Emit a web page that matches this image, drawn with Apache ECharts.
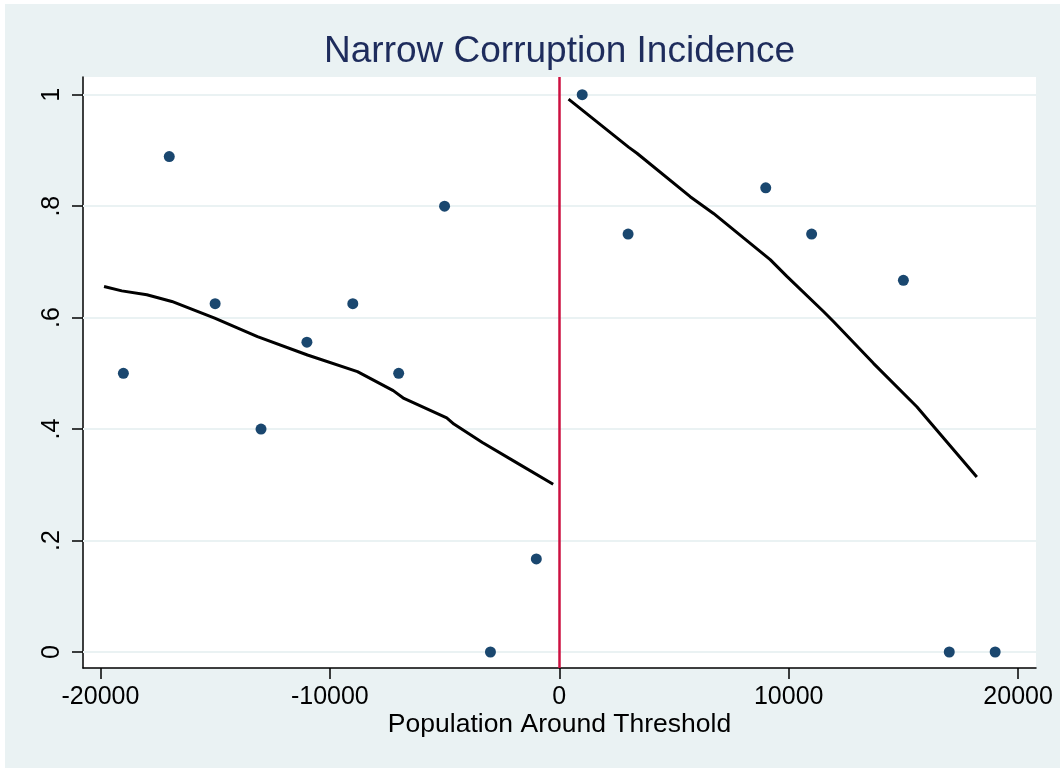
<!DOCTYPE html>
<html>
<head>
<meta charset="utf-8">
<script src="https://cdn.jsdelivr.net/npm/echarts@6/dist/echarts.min.js"></script>
<style>
  html, body { margin: 0; padding: 0; background: #ffffff; }
  #bg { position: absolute; left: 5px; top: 4px; right: 0; bottom: 0; background: #EAF2F3; }
  #chart { position: absolute; left: 0; top: 0; width: 1060px; height: 768px; }
</style>
</head>
<body>
<div id="bg"></div>
<div id="chart"></div>
<script>
// ---- data ----
const titleText = 'Narrow Corruption Incidence';
const xAxisName = 'Population Around Threshold';
const xPoints = [-19000, -17000, -15000, -13000, -11000, -9000, -7000, -5000, -3000, -1000, 1000, 3000, 9000, 11000, 15000, 17000, 19000];
const yPoints = [0.5, 0.889, 0.625, 0.4, 0.556, 0.625, 0.5, 0.8, 0, 0.167, 1, 0.75, 0.833, 0.75, 0.667, 0, 0];
const leftFitX = [-19843, -19068, -17978, -16889, -15020, -13155, -10976, -8797, -7237, -6771, -4906, -4593, -3351, -1791, -266];
const leftFitY = [0.656, 0.648, 0.641, 0.629, 0.599, 0.566, 0.533, 0.503, 0.469, 0.455, 0.420, 0.409, 0.376, 0.338, 0.301];
const rightFitX = [405, 3020, 3386, 5708, 6723, 8031, 9194, 9922, 11517, 11952, 13695, 15586, 16022, 18200];
const rightFitY = [0.992, 0.906, 0.895, 0.817, 0.787, 0.743, 0.704, 0.674, 0.611, 0.593, 0.518, 0.440, 0.419, 0.314];
const thresholdX = 0;
const xTicks = [-20000, -10000, 0, 10000, 20000];
const xTickLabels = ['-20000', '-10000', '0', '10000', '20000'];
const yTicks = [0, 0.2, 0.4, 0.6, 0.8, 1];
const yTickLabels = ['0', '.2', '.4', '.6', '.8', '1'];

// ---- build ----
const zip = (a, b) => a.map((v, i) => [v, b[i]]);
const FONT = 'Liberation Sans, Arial, Helvetica, sans-serif';
const labelFor = (ticks, labels) => v => {
  const i = ticks.findIndex(t => Math.abs(t - v) < 1e-9);
  return i >= 0 ? labels[i] : '';
};

const chart = echarts.init(document.getElementById('chart'), null, { renderer: 'canvas' });
chart.setOption({
  backgroundColor: 'transparent',
  animation: false,
  title: {
    text: titleText,
    left: 559.5,
    top: 33,
    padding: 0,
    textAlign: 'center',
    textStyle: { color: '#1E2C5C', fontSize: 37, fontWeight: 'normal', fontFamily: FONT }
  },
  grid: {
    left: 83, right: 24, top: 77, bottom: 100,
    show: true, backgroundColor: '#ffffff', borderWidth: 0,
    containLabel: false
  },
  xAxis: {
    type: 'value',
    min: -20760, max: 20780,
    name: xAxisName,
    nameLocation: 'middle',
    nameGap: 43,
    nameMoveOverlap: false,
    nameTextStyle: { color: '#000', fontSize: 26.5, fontFamily: FONT },
    axisLine: { show: true, onZero: false, lineStyle: { color: '#000', width: 1.5 } },
    axisTick: { show: true, length: 11, customValues: xTicks, lineStyle: { color: '#000', width: 1.5 } },
    axisLabel: { show: true, customValues: xTicks, margin: 17, color: '#000', fontSize: 25, fontFamily: FONT,
      formatter: labelFor(xTicks, xTickLabels) },
    splitLine: { show: false }
  },
  yAxis: {
    type: 'value',
    min: -0.0287, max: 1.0318,
    axisLine: { show: true, onZero: false, lineStyle: { color: '#000', width: 1.5 } },
    axisTick: { show: true, length: 11, customValues: yTicks, lineStyle: { color: '#000', width: 1.5 } },
    axisLabel: { show: true, customValues: yTicks, rotate: 90, margin: 18, color: '#000', fontSize: 25, fontFamily: FONT,
      formatter: labelFor(yTicks, yTickLabels) },
    splitLine: { show: false }
  },
  series: [
    {
      type: 'line',
      name: 'grid',
      data: [],
      silent: true,
      z: 1,
      markLine: {
        silent: true,
        z: 1,
        symbol: ['none', 'none'],
        label: { show: false },
        lineStyle: { color: '#EAF2F3', width: 2, type: 'solid' },
        data: yTicks.map(v => ({ yAxis: v }))
      }
    },
    {
      type: 'line',
      name: 'threshold',
      data: [],
      silent: true,
      z: 2,
      markLine: {
        silent: true,
        z: 2,
        symbol: ['none', 'none'],
        label: { show: false },
        lineStyle: { color: '#CC1040', width: 2.5, type: 'solid' },
        data: [{ xAxis: thresholdX }]
      }
    },
    {
      type: 'line',
      name: 'fit left',
      data: zip(leftFitX, leftFitY),
      showSymbol: false,
      smooth: false,
      lineStyle: { color: '#000', width: 3 },
      z: 3
    },
    {
      type: 'line',
      name: 'fit right',
      data: zip(rightFitX, rightFitY),
      showSymbol: false,
      smooth: false,
      lineStyle: { color: '#000', width: 3 },
      z: 3
    },
    {
      type: 'scatter',
      name: 'points',
      data: zip(xPoints, yPoints),
      symbol: 'circle',
      symbolSize: 11,
      itemStyle: { color: '#1A476F', opacity: 1 },
      z: 4
    }
  ]
});
</script>
</body>
</html>
